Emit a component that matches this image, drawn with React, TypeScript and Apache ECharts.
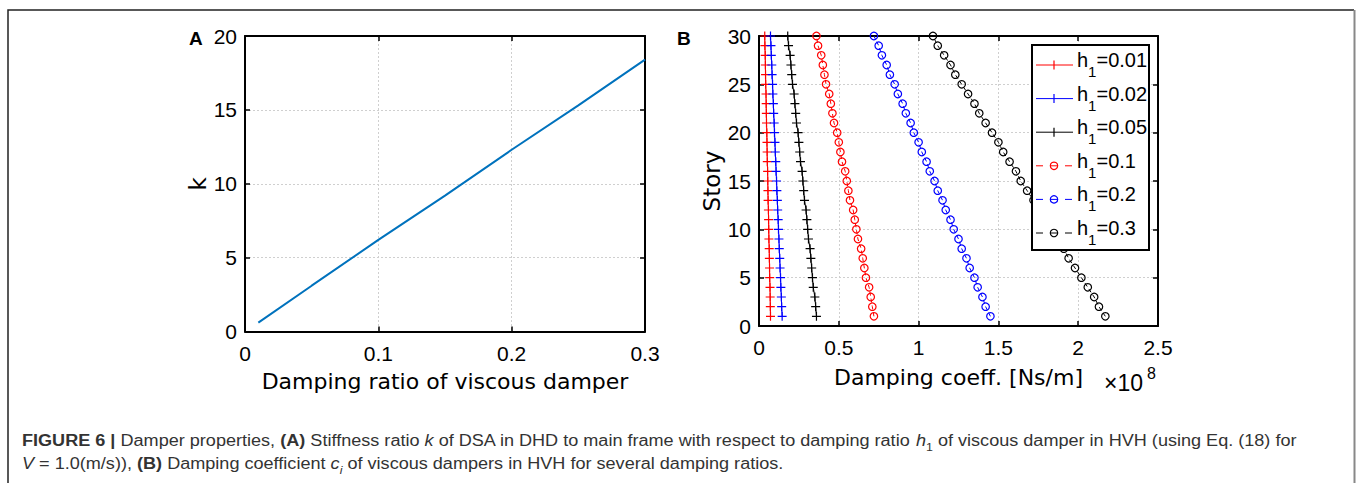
import React, { useEffect, useRef } from "react";
import * as echarts from "echarts";

// ---------- Panel A data ----------
const dampingRatioA = [0.01, 0.05, 0.1, 0.15, 0.2, 0.25, 0.3];
const stiffnessK = [0.6, 3.1, 6.2, 9.2, 12.3, 15.3, 18.4];
const xTickLabelsA = ["0", "0.1", "0.2", "0.3"];
const yTickLabelsA = ["0", "5", "10", "15", "20"];

// ---------- Panel B data (x in units of 1e8 Ns/m) ----------
const stories = [1, 2, 3, 4, 5, 6, 7, 8, 9, 10, 11, 12, 13, 14, 15, 16, 17, 18, 19, 20, 21, 22, 23, 24, 25, 26, 27, 28, 29, 30];
const coeffH001 = [0.072, 0.071, 0.070, 0.069, 0.067, 0.066, 0.065, 0.064, 0.062, 0.061, 0.060, 0.059, 0.057, 0.056, 0.055, 0.054, 0.052, 0.051, 0.050, 0.049, 0.047, 0.046, 0.045, 0.044, 0.042, 0.041, 0.040, 0.039, 0.037, 0.036];
const coeffH002 = [0.145, 0.142, 0.140, 0.137, 0.135, 0.132, 0.130, 0.127, 0.125, 0.122, 0.120, 0.117, 0.115, 0.112, 0.110, 0.107, 0.105, 0.102, 0.100, 0.097, 0.095, 0.092, 0.090, 0.087, 0.085, 0.082, 0.080, 0.077, 0.075, 0.072];
const coeffH005 = [0.36, 0.355, 0.35, 0.34, 0.335, 0.33, 0.325, 0.32, 0.31, 0.305, 0.30, 0.295, 0.285, 0.28, 0.275, 0.27, 0.26, 0.255, 0.25, 0.245, 0.235, 0.23, 0.225, 0.22, 0.21, 0.205, 0.20, 0.195, 0.185, 0.18];
const coeffH01 = [0.72, 0.71, 0.70, 0.69, 0.67, 0.66, 0.65, 0.64, 0.62, 0.61, 0.60, 0.59, 0.57, 0.56, 0.55, 0.54, 0.52, 0.51, 0.50, 0.49, 0.47, 0.46, 0.45, 0.44, 0.42, 0.41, 0.40, 0.39, 0.37, 0.36];
const coeffH02 = [1.45, 1.42, 1.40, 1.37, 1.35, 1.32, 1.30, 1.27, 1.25, 1.22, 1.20, 1.17, 1.15, 1.12, 1.10, 1.07, 1.05, 1.02, 1.00, 0.97, 0.95, 0.92, 0.90, 0.87, 0.85, 0.82, 0.80, 0.77, 0.75, 0.72];
const coeffH03 = [2.17, 2.13, 2.10, 2.06, 2.02, 1.98, 1.94, 1.91, 1.87, 1.83, 1.79, 1.76, 1.72, 1.68, 1.64, 1.61, 1.57, 1.53, 1.50, 1.46, 1.42, 1.38, 1.35, 1.31, 1.27, 1.23, 1.20, 1.16, 1.12, 1.09];
const legendValues = ["0.01", "0.02", "0.05", "0.1", "0.2", "0.3"];
const xTickLabelsB = ["0", "0.5", "1", "1.5", "2", "2.5"];
const yTickLabelsB = ["0", "5", "10", "15", "20", "25", "30"];

const captionLine1 = [
  { t: "FIGURE 6 | ", s: "b" },
  { t: "Damper properties, ", s: "n" },
  { t: "(A)", s: "b" },
  { t: " Stiffness ratio ", s: "n" },
  { t: "k", s: "i" },
  { t: " of DSA in DHD to main frame with respect to damping ratio ", s: "n" },
  { t: "h", s: "i" },
  { t: "1", s: "sub" },
  { t: " of viscous damper in HVH (using Eq. (18) for", s: "n" },
];
const captionLine2 = [
  { t: "V", s: "i" },
  { t: " = 1.0(m/s)), ", s: "n" },
  { t: "(B)", s: "b" },
  { t: " Damping coefficient ", s: "n" },
  { t: "c", s: "i" },
  { t: "i", s: "isub" },
  { t: " of viscous dampers in HVH for several damping ratios.", s: "n" },
];

const seriesDataB = [coeffH001, coeffH002, coeffH005, coeffH01, coeffH02, coeffH03];
const seriesColors = ["#ff0000", "#0000ff", "#000000", "#ff0000", "#0000ff", "#000000"];
const seriesMarkers = ["plus", "plus", "plus", "circle", "circle", "circle"];

const TICK_FONT = "Liberation Sans";
const NAME_FONT = "DejaVu Sans";
const CAP_FONT = "Liberation Sans";

const PLUS = "path://M0,5L10,5M5,0L5,10";

export default function App() {
  const ref = useRef<HTMLDivElement>(null);

  useEffect(() => {
    if (!ref.current) return;
    const chart = echarts.init(ref.current, null, { renderer: "svg" });

    const gridA = { left: 245, top: 36, width: 400, height: 295.5 };
    const gridB = { left: 759, top: 36, width: 399, height: 290 };

    const mainX = (min: number, max: number, interval: number, labels: string[], grid: number, name: string, gap: number, margin: number) => ({
      type: "value", gridIndex: grid, min, max, interval, position: "bottom",
      name, nameLocation: "middle", nameGap: gap,
      nameTextStyle: { fontFamily: NAME_FONT, fontSize: 22, color: "#000" },
      axisLine: { show: true, onZero: false, lineStyle: { color: "#000", width: 2 } },
      axisTick: { show: true, inside: true, length: 5, lineStyle: { color: "#000", width: 1.5 } },
      axisLabel: { show: true, margin, fontFamily: TICK_FONT, fontSize: 21, color: "#000", formatter: (_v: number, i: number) => labels[i] },
      splitLine: { show: true, lineStyle: { color: "#cfcfcf", width: 1, type: [2, 2] } },
    });
    const mainY = (min: number, max: number, interval: number, labels: string[], grid: number, name: string, gap: number) => ({
      type: "value", gridIndex: grid, min, max, interval, position: "left",
      name, nameLocation: "middle", nameGap: gap,
      nameTextStyle: { fontFamily: NAME_FONT, fontSize: 23, color: "#000" },
      axisLine: { show: true, onZero: false, lineStyle: { color: "#000", width: 2 } },
      axisTick: { show: true, inside: true, length: 5, lineStyle: { color: "#000", width: 1.5 } },
      axisLabel: { show: true, margin: 8, fontFamily: TICK_FONT, fontSize: 21, color: "#000", formatter: (_v: number, i: number) => labels[i] },
      splitLine: { show: true, lineStyle: { color: "#cfcfcf", width: 1, type: [2, 2] } },
    });
    const mirror = (type: "x" | "y", min: number, max: number, interval: number, grid: number) => ({
      type: "value", gridIndex: grid, min, max, interval,
      position: type === "x" ? "top" : "right",
      axisLine: { show: true, onZero: false, lineStyle: { color: "#000", width: 2 } },
      axisTick: { show: true, inside: true, length: 5, lineStyle: { color: "#000", width: 1.5 } },
      axisLabel: { show: false },
      splitLine: { show: false },
    });

    const seriesB = seriesDataB.map((vals, si) => {
      const color = seriesColors[si];
      const isPlus = seriesMarkers[si] === "plus";
      return {
        type: "line",
        xAxisIndex: 2,
        yAxisIndex: 2,
        data: vals.map((v, i) => [v, stories[i]]),
        symbol: isPlus ? PLUS : "circle",
        symbolSize: isPlus ? 9 : 7.5,
        showAllSymbol: true,
        clip: false,
        lineStyle: { color, width: 1, type: isPlus ? "solid" : [4, 3] },
        itemStyle: { color: isPlus ? color : "rgba(0,0,0,0)", borderColor: color, borderWidth: 1.2 },
        z: 3,
      };
    });

    // legend drawn with graphic elements
    const legendEls: any[] = [];
    const lgX = 1032, lgY = 45, lgW = 117, lgH = 205;
    legendEls.push({ type: "rect", shape: { x: lgX, y: lgY, width: lgW, height: lgH }, style: { fill: "#fff", stroke: "#000", lineWidth: 2 }, z: 100 });
    const rowY0 = 65, rowStep = 33.6;
    legendValues.forEach((lab, i) => {
      const y = rowY0 + i * rowStep;
      const color = seriesColors[i];
      const cx = 1054;
      if (seriesMarkers[i] === "plus") {
        legendEls.push({ type: "line", shape: { x1: 1036, y1: y, x2: 1073, y2: y }, style: { stroke: color, lineWidth: 1 }, z: 101 });
        legendEls.push({ type: "line", shape: { x1: cx, y1: y - 4.5, x2: cx, y2: y + 4.5 }, style: { stroke: color, lineWidth: 1.2 }, z: 101 });
      } else {
        legendEls.push({ type: "line", shape: { x1: 1036, y1: y, x2: 1043, y2: y }, style: { stroke: color, lineWidth: 1 }, z: 101 });
        legendEls.push({ type: "line", shape: { x1: 1065, y1: y, x2: 1072, y2: y }, style: { stroke: color, lineWidth: 1 }, z: 101 });
        legendEls.push({ type: "line", shape: { x1: cx - 3.7, y1: y, x2: cx + 3.7, y2: y }, style: { stroke: color, lineWidth: 1 }, z: 101 });
        legendEls.push({ type: "circle", shape: { cx, cy: y, r: 3.7 }, style: { fill: "none", stroke: color, lineWidth: 1.2 }, z: 101 });
      }
      legendEls.push({
        type: "text", x: 1077, y: y - 5, z: 101,
        style: {
          text: `{m|h}{s|1}{m|=${lab}}`,
          verticalAlign: "middle", align: "left",
          rich: {
            m: { fontFamily: TICK_FONT, fontSize: 20, lineHeight: 38, verticalAlign: "middle", fill: "#000" },
            s: { fontFamily: TICK_FONT, fontSize: 15, lineHeight: 15, verticalAlign: "bottom", fill: "#000" },
          },
        },
      });
    });

    const capRich = {
      n: { fontFamily: CAP_FONT, fontSize: 16, fill: "#333", lineHeight: 22, verticalAlign: "middle" },
      b: { fontFamily: CAP_FONT, fontSize: 16, fontWeight: "bold", fill: "#333", lineHeight: 22, verticalAlign: "middle" },
      i: { fontFamily: CAP_FONT, fontSize: 16, fontStyle: "italic", fill: "#333", lineHeight: 22, verticalAlign: "middle" },
      sub: { fontFamily: CAP_FONT, fontSize: 11, fill: "#333", lineHeight: 11, verticalAlign: "bottom" },
      isub: { fontFamily: CAP_FONT, fontSize: 11, fontStyle: "italic", fill: "#333", lineHeight: 11, verticalAlign: "bottom" },
    };
    const capText = (parts: { t: string; s: string }[]) => parts.map((p) => `{${p.s}|${p.t}}`).join("");

    chart.setOption({
      animation: false,
      backgroundColor: "#fff",
      grid: [
        { ...gridA, containLabel: false },
        { ...gridB, containLabel: false },
      ],
      xAxis: [
        mainX(0, 0.3, 0.1, xTickLabelsA, 0, "Damping ratio of viscous damper", 39, 11),
        mirror("x", 0, 0.3, 0.1, 0),
        mainX(0, 2.5, 0.5, xTickLabelsB, 1, "Damping coeff. [Ns/m]", 40, 11),
        mirror("x", 0, 2.5, 0.5, 1),
      ],
      yAxis: [
        mainY(0, 20, 5, yTickLabelsA, 0, "k", 36),
        mirror("y", 0, 20, 5, 0),
        mainY(0, 30, 5, yTickLabelsB, 1, "Story", 36),
        mirror("y", 0, 30, 5, 1),
      ],
      series: [
        {
          type: "line",
          xAxisIndex: 0,
          yAxisIndex: 0,
          data: dampingRatioA.map((h, i) => [h, stiffnessK[i]]),
          showSymbol: false,
          lineStyle: { color: "#0072bd", width: 2 },
          z: 3,
        },
        ...seriesB,
      ],
      graphic: [
        {
          type: "polyline", z: 50,
          shape: { points: [[8, 483], [8, 10], [1354, 10]] },
          style: { fill: "none", stroke: "#222", lineWidth: 1.5 },
        },
        {
          type: "line", z: 50,
          shape: { x1: 1354.5, y1: 10, x2: 1354.5, y2: 483 },
          style: { stroke: "#888", lineWidth: 2 },
        },
        { type: "text", x: 189, y: 38, z: 60, style: { text: "A", fontFamily: "Liberation Sans", fontWeight: "bold", fontSize: 19, fill: "#000", verticalAlign: "middle", align: "left" } },
        { type: "text", x: 677, y: 38, z: 60, style: { text: "B", fontFamily: "Liberation Sans", fontWeight: "bold", fontSize: 19, fill: "#000", verticalAlign: "middle", align: "left" } },
        { type: "text", x: 1104, y: 394, z: 60, style: { text: "×10", fontFamily: TICK_FONT, fontSize: 23, fill: "#000", verticalAlign: "bottom", align: "left" } },
        { type: "text", x: 1147, y: 365, z: 60, style: { text: "8", fontFamily: TICK_FONT, fontSize: 16, fill: "#000", verticalAlign: "top", align: "left" } },
        { type: "text", x: 22, y: 441, scaleX: 1.13, z: 60, style: { text: capText(captionLine1), rich: capRich, verticalAlign: "middle", align: "left" } },
        { type: "text", x: 22, y: 464, scaleX: 1.13, z: 60, style: { text: capText(captionLine2), rich: capRich, verticalAlign: "middle", align: "left" } },
        ...legendEls,
      ],
    });

    return () => chart.dispose();
  }, []);

  return <div ref={ref} style={{ position: "fixed", left: 0, top: 0, width: 1358, height: 483 }} />;
}
